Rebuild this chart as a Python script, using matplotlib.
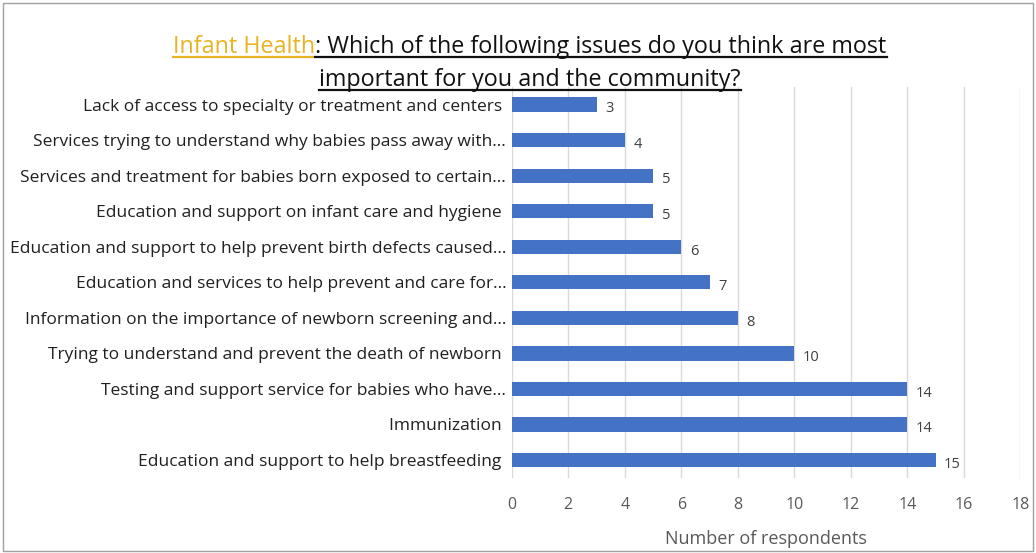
import matplotlib.pyplot as plt
from matplotlib.lines import Line2D
from matplotlib.patches import Rectangle

categories = [
    "Lack of access to specialty or treatment and centers ",
    "Services trying to understand why babies pass away with...",
    "Services and treatment for babies born exposed to certain...",
    "Education and support on infant care and hygiene ",
    "Education and support to help prevent birth defects caused...",
    "Education and services to help prevent and care for...",
    "Information on the importance of newborn screening and...",
    "Trying to understand and prevent the death of newborn ",
    "Testing and support service for babies who have...",
    "Immunization ",
    "Education and support to help breastfeeding ",
]
values = [3, 4, 5, 5, 6, 7, 8, 10, 14, 14, 15]
xticks = [0, 2, 4, 6, 8, 10, 12, 14, 16, 18]

plt.rcParams['font.family'] = ['Open Sans', 'DejaVu Sans']

fig = plt.figure(figsize=(10.36, 5.53), dpi=100)
ax = fig.add_axes([0.494, 0.136, 0.491, 0.707])

y = list(range(len(categories)))[::-1]
ax.barh(y, values, height=0.4, color='#4472C4', zorder=3)
for yi, v in zip(y, values):
    ax.text(v + 0.3, yi - 0.12, str(v), va='center', ha='left', fontsize=10.5, color='#404040')

ax.set_yticks(y)
ax.set_yticklabels(categories, fontsize=12.5, color='#202020')
ax.set_xticks(xticks)
ax.set_xlim(0, 18)
ax.set_ylim(-0.5, len(categories) - 0.5)
ax.tick_params(axis='both', length=0)
ax.tick_params(axis='x', labelsize=11.5, labelcolor='#595959', pad=14)
ax.tick_params(axis='y', pad=4)
ax.grid(axis='x', color='#D9D9D9', linewidth=1, zorder=0)
for s in ax.spines.values():
    s.set_visible(False)
ax.set_xlabel('Number of respondents', fontsize=13, color='#595959', labelpad=12)

# title with coloured first words and underline
fig.canvas.draw()
r = fig.canvas.get_renderer()
fs = 16.8
cx = 530
line1_y = 553 - 47
line2_y = 553 - 80
t1 = fig.text(0, 0, "Infant Health", fontsize=fs, color='#E8B422', va='baseline')
t2 = fig.text(0, 0, ": Which of the following issues do you think are most", fontsize=fs, color='#111111', va='baseline')
w1 = t1.get_window_extent(r).width
w2 = t2.get_window_extent(r).width
x0 = cx - (w1 + w2) / 2
t1.set_position((x0 / 1036, (line1_y - 6) / 553))
t2.set_position(((x0 + w1) / 1036, (line1_y - 6) / 553))
t3 = fig.text(cx / 1036, (line2_y - 6) / 553, "important for you and the community?", fontsize=fs,
              color='#111111', va='baseline', ha='center')
w3 = t3.get_window_extent(r).width
ul = line1_y - 10
fig.add_artist(Line2D([x0 / 1036, (x0 + w1) / 1036], [ul / 553, ul / 553], color='#E8B422', lw=1.6))
fig.add_artist(Line2D([(x0 + w1) / 1036, (x0 + w1 + w2) / 1036], [ul / 553, ul / 553], color='#111111', lw=1.6))
ul2 = line2_y - 10
fig.add_artist(Line2D([(cx - w3 / 2) / 1036, (cx + w3 / 2) / 1036], [ul2 / 553, ul2 / 553], color='#111111', lw=1.6))

fig.add_artist(Rectangle((0.003, 0.003), 0.994, 0.992, transform=fig.transFigure,
                         fill=False, edgecolor='#A0A0A0', linewidth=1))

fig.savefig('out.png', dpi=100)
